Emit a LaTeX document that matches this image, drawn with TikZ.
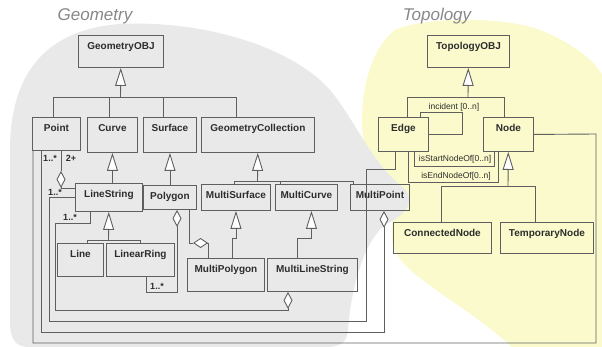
\documentclass[tikz,border=0pt]{standalone}
\usepackage{fontspec}
\setmainfont{Liberation Sans}
\usetikzlibrary{arrows.meta}

\definecolor{linec}{RGB}{95,95,95}
\definecolor{txtc}{RGB}{45,45,45}
\definecolor{titlec}{RGB}{135,135,135}
\definecolor{geomc}{RGB}{233,233,233}
\definecolor{topoc}{RGB}{250,250,204}

\begin{document}
\begin{tikzpicture}[x=1pt, y=-1pt,
	ln/.style={draw=linec, line width=0.9pt},
	gen/.style={ln, -{Triangle[length=18pt,width=11pt,fill=white]}},
	agg/.style={ln, {Diamond[length=17pt,width=9pt,fill=white]}-},
	aggs/.style={ln, {Diamond[length=15pt,width=10pt,fill=white]}-},
	cls/.style 2 args={draw=linec, line width=0.9pt, anchor=north west, inner sep=0pt, minimum width=#1, text height=14.5pt, text depth=#2, font=\bfseries\fontsize{10}{12}\selectfont, text=txtc},
	lbl/.style={font=\fontsize{8.5}{10}\selectfont, text=txtc, inner sep=0pt},
	mult/.style={font=\bfseries\fontsize{9}{10}\selectfont, text=txtc, inner sep=0pt},
	title/.style={font=\itshape\fontsize{17}{20}\selectfont, text=titlec}]
			\useasboundingbox (0,0) rectangle (602,347);
			% the two packages
			\fill[topoc] (395,30) .. controls (420,18) and (500,15) .. (540,30) .. controls (570,42) and (595,60) .. (602,75) -- (602,347) -- (512,347) .. controls (460,300) and (400,275) .. (393,245) .. controls (388,220) and (400,205) .. (385,185) .. controls (370,165) and (362,150) .. (362,120) .. controls (362,80) and (375,45) .. (395,30) -- cycle;
			\fill[geomc] (10,320) -- (10,150) .. controls (10,80) and (40,30) .. (120,24) .. controls (200,20) and (290,45) .. (330,90) .. controls (355,120) and (370,160) .. (400,185) .. controls (420,200) and (405,215) .. (385,225) .. controls (360,245) and (350,300) .. (348,330) .. controls (347,343) and (340,347) .. (325,347) -- (30,347) .. controls (15,347) and (10,340) .. (10,320) -- cycle;
			\node[title] (geomtitle) at (95,16) {Geometry};
			\node[title] (topotitle) at (437,16) {Topology};
			% classes
			\node[cls={85pt}{17.5pt}] (geomobj) at (78,35) {GeometryOBJ};
			\node[cls={82pt}{17.5pt}] (topoobj) at (427,35) {TopologyOBJ};
			\node[cls={48pt}{18.5pt}] (point) at (32,117) {Point};
			\node[cls={50pt}{20.5pt}] (curve) at (87,117) {Curve};
			\node[cls={53pt}{20.5pt}] (surface) at (143,117) {Surface};
			\node[cls={113pt}{20.5pt}] (geomcoll) at (201,117) {GeometryCollection};
			\node[cls={50pt}{19.5pt}] (edge) at (378,117) {Edge};
			\node[cls={50pt}{19.5pt}] (topnode) at (483,117) {Node};
			\node[cls={67pt}{13.5pt}] (linestring) at (75,183) {LineString};
			\node[cls={53pt}{9.5pt}] (polygon) at (143,185) {Polygon};
			\node[cls={69pt}{11.5pt}] (multisurface) at (201,184) {MultiSurface};
			\node[cls={62pt}{11.5pt}] (multicurve) at (275,184) {MultiCurve};
			\node[cls={59pt}{11.5pt}] (multipoint) at (350,184) {MultiPoint};
			\node[cls={46pt}{18.5pt}] (line) at (57,243) {Line};
			\node[cls={68pt}{18.5pt}] (linearring) at (106,243) {LinearRing};
			\node[cls={77pt}{18.5pt}] (multipolygon) at (187,258) {MultiPolygon};
			\node[cls={90pt}{18.5pt}] (multilinestring) at (267,258) {MultiLineString};
			\node[cls={98pt}{16.5pt}] (connectednode) at (393,222) {ConnectedNode};
			\node[cls={93pt}{16.5pt}] (temporarynode) at (500,222) {TemporaryNode};
			% generalizations
			\coordinate (gb) at (120.5,97);
			\draw[gen] (gb) -- (geomobj);
			\draw[ln] (point.north west) ++(21,0) |- (gb);
			\draw[ln] (geomcoll.north west) ++(35,0) |- (gb);
			\draw[ln] (curve.north west) ++(22,0) -- ++(0,-20);
			\draw[ln] (surface.north west) ++(20,0) -- ++(0,-20);
			\draw[gen] (curve.south |- linestring.north) -- (curve.south);
			\draw[gen] (polygon) -- (surface);
			\coordinate (cb) at (257.5,181);
			\draw[gen] (cb) -- (geomcoll);
			\draw[ln] (multisurface.north west) ++(33,0) |- (cb);
			\draw[ln] (multipoint.north west) ++(3,0) |- (cb);
			\draw[ln] (multicurve.north west) ++(5,0) -- ++(0,-3);
			\draw[gen] (multipolygon.north west) ++(45,0) -- ++(0,-20) -| (multisurface.south);
			\draw[gen] (multilinestring.north west) ++(30,0) -- ++(0,-20) -| ([xshift=5pt]multicurve.south);
			\coordinate (lb) at (108.5,240);
			\draw[gen] (lb) -- (linestring);
			\draw[ln] (line.north west) ++(30,0) |- (lb);
			\draw[ln] (linearring.north west) ++(34,0) |- (lb);
			\coordinate (tb) at (468,97);
			\draw[gen] (tb) -- (topoobj);
			\draw[ln] (edge.north west) ++(29,0) |- (tb);
			\draw[ln] (topnode.north west) ++(21,0) |- (tb);
			\coordinate (nb) at (508,186);
			\draw[gen] (nb) -- (topnode);
			\draw[ln] (connectednode.north west) ++(48,0) |- (nb);
			\draw[ln] (temporarynode.north west) ++(35,0) |- (nb);
			% associations
			\draw[ln] (edge.north west) ++(42,0) -- ++(0,-5) -- ++(42,0) |- (edge.east);
			\node[lbl] (incident) at (454,107) {incident [0..n]};
			\draw[ln] (edge.south west) ++(36,0) -- ++(0,15) -| ([xshift=11pt]topnode.south west);
			\node[lbl] (startof) at (455,159) {isStartNodeOf[0..n]};
			\draw[ln] (edge.south west) ++(30,0) -- ++(0,31) -| ([xshift=15pt]topnode.south west);
			\node[lbl] (endof) at (456,176) {isEndNodeOf[0..n]};
			\draw[ln] (edge.south west) ++(17,0) -- ++(0,18) -| (366,321) -- (49,321) |- (linestring.west);
			\draw[ln] (topnode.east) -- (596,134) |- (33,343) -- ([xshift=1pt]point.south west);
			% aggregations
			\draw[ln] (point.south west) ++(29,0) -- ++(0,20) coordinate (pd);
			\draw[agg] (pd) |- ([yshift=9pt]linestring.west);
			\draw[agg] (multipoint.south west) ++(34,0) -- (384,332) -| ([xshift=9pt]point.south west);
			\draw[agg] (multilinestring.south west) ++(21,0) -- (288,310) -| (55,223) -| ([xshift=15pt]linestring.south west);
			\draw[agg] (polygon.south west) ++(34,0) -- (177,292) -| ([xshift=40pt]linearring.south west);
			\draw[ln] (polygon.south west) ++(46,0) |- (193,243) coordinate (pp);
			\draw[aggs] (pp) -| ([xshift=21pt]multipolygon.north west);
			% multiplicities
			\node[mult] (m1) at (50,158) {1..*};
			\node[mult] (m2) at (71,158) {2+};
			\node[mult] (m3) at (55,192) {1..*};
			\node[mult] (m4) at (70,217) {1..*};
			\node[mult] (m5) at (157,286) {1..*};
			\end{tikzpicture}
\end{document}
